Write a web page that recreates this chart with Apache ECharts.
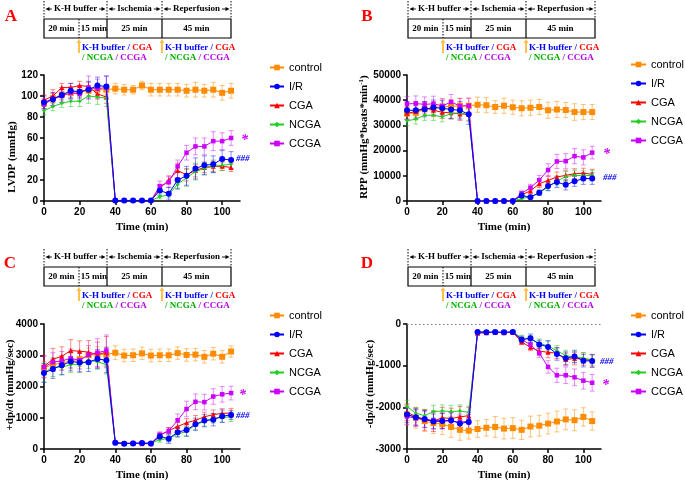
<!DOCTYPE html>
<html><head><meta charset="utf-8">
<script src="https://cdn.jsdelivr.net/npm/echarts@6/dist/echarts.min.js"></script>
<style>html,body{margin:0;padding:0;background:#fff}#c{width:685px;height:484px}</style>
</head><body><div id="c"></div>
<script>
const time = [0,5,10,15,20,25,30,35,40,45,50,55,60,65,70,75,80,85,90,95,100,105];
const groups = ['control','I/R','CGA','NCGA','CCGA'];
const xTicks = [0,20,40,60,80,100];

// Panel A: LVDP (mmHg)
const lvdp_control = [93,98,101,103,104,105,106,106,107,106,106,110,106,106,106,106,105,106,105,106,103,105];
const lvdp_control_err = [5,5,5,5,5,5,5,5,5,5,4,4,6,6,6,6,6,7,6,7,7,7];
const lvdp_ir = [94,97,101,105,104,106,110,109,0.5,0.5,0.5,0.5,0.5,10,7,20,24,31,34,35,40,39];
const lvdp_ir_err = [6,6,7,7,6,8,8,10,0,0,0,0,0,5,6,8,9,10,9,8,8,8];
const lvdp_cga = [96,100,108,108,110,109,102,99,0.5,0.5,0.5,0.5,0.5,12,20,29,25,29,32,33,33,32];
const lvdp_cga_err = [5,6,4,4,4,4,5,6,0,0,0,0,0,4,4,7,6,6,5,5,4,4];
const lvdp_ncga = [86,90,93,95,95,100,99,98,0.5,0.5,0.5,0.5,0.5,4,6,16,22,28,31,33,34,35];
const lvdp_ncga_err = [4,4,4,5,5,7,7,8,0,0,0,0,0,2,3,5,8,8,6,6,5,5];
const lvdp_ccga = [92,97,100,103,102,108,107,108,0.5,0.5,0.5,0.5,0.5,14,18,33,46,52,52,57,57,60];
const lvdp_ccga_err = [5,6,6,6,6,11,9,11,0,0,0,0,0,5,5,6,7,8,8,9,8,7];

// Panel B: RPP
const rpp_control = [34700,35000,36500,37000,37500,37500,37800,37800,38200,38000,37300,37800,37200,36800,37000,37300,36000,36300,36100,35300,35300,35300];
const rpp_control_err = [2500,2800,2500,2500,2800,2800,3000,3000,3000,3000,2500,3000,2800,3000,3000,3000,3200,3200,3000,3300,3000,3000];
const rpp_ir = [36000,36000,36400,37100,36800,36300,36000,34400,0,0,0,0,0,2200,1500,3300,6000,7500,6400,7800,8900,8900];
const rpp_ir_err = [3500,3500,3000,3000,3000,3500,3500,4000,0,0,0,0,0,600,500,1000,1800,2200,2000,2000,2300,2300];
const rpp_cga = [34800,35500,37000,36000,35200,35000,34500,34500,0,0,0,0,0,2500,4000,6800,8200,9500,10200,10800,11000,10600];
const rpp_cga_err = [2500,2500,2500,2500,2500,2500,2500,2500,0,0,0,0,0,1000,1200,1500,1800,2000,2000,2000,2000,2000];
const rpp_ncga = [31800,32500,34000,34000,33400,34700,35000,34000,0,0,0,0,0,1000,1600,3300,5500,8000,9700,10200,10000,10200];
const rpp_ncga_err = [2000,2000,2000,2000,2000,2000,2000,2500,0,0,0,0,0,500,600,1000,1500,2000,2000,2000,2000,2000];
const rpp_ccga = [38500,38700,38300,38600,37700,39300,37700,37800,0,0,0,0,0,3000,5300,8300,12300,15700,15800,17800,17300,19200];
const rpp_ccga_err = [3000,3000,3000,3000,3000,3000,3000,3000,0,0,0,0,0,1000,1300,1800,2500,2800,3000,3000,3000,2500];

// Panel C: +dp/dt
const dpdt_control = [2600,2700,2750,2820,2870,3000,3020,3020,3080,2990,3000,3060,2990,3000,3000,3070,3010,3020,2950,3050,2950,3120];
const dpdt_control_err = [200,200,220,250,230,230,250,250,220,200,200,200,200,200,200,200,200,200,200,200,200,180];
const dpdt_ir = [2430,2560,2680,2800,2770,2780,2880,2840,200,170,180,190,180,400,330,540,610,790,910,940,1050,1090];
const dpdt_ir_err = [300,300,300,300,300,300,300,400,30,30,30,30,30,100,150,150,200,200,200,200,200,150];
const dpdt_cga = [2650,2870,2970,3150,3130,3100,3020,3100,200,190,180,170,170,440,590,720,840,920,1030,1100,1140,1150];
const dpdt_cga_err = [350,350,300,350,330,370,400,500,30,30,30,30,30,80,100,130,130,150,150,150,150,150];
const dpdt_ncga = [2450,2620,2620,2700,2700,2830,2800,2700,190,180,180,180,180,300,330,480,560,780,880,980,1010,1030];
const dpdt_ncga_err = [300,300,250,250,250,250,250,300,30,30,30,30,30,80,100,100,150,150,150,150,150,150];
const dpdt_ccga = [2620,2780,2820,2900,2840,3010,3080,3150,200,170,190,190,180,450,580,920,1280,1510,1500,1680,1750,1790];
const dpdt_ccga_err = [350,300,300,300,280,300,450,500,30,30,30,30,30,100,100,200,250,250,250,250,250,220];

// Panel D: -dp/dt
const mdpdt_control = [-2170,-2250,-2330,-2380,-2400,-2470,-2540,-2560,-2520,-2490,-2470,-2510,-2500,-2540,-2460,-2440,-2390,-2340,-2290,-2310,-2230,-2330];
const mdpdt_control_err = [250,250,250,250,250,250,250,200,200,200,250,250,250,230,250,250,250,250,250,250,220,220];
const mdpdt_ir = [-2170,-2240,-2280,-2340,-2330,-2310,-2390,-2350,-190,-200,-190,-200,-190,-380,-340,-490,-550,-720,-820,-780,-880,-890];
const mdpdt_ir_err = [200,200,200,180,180,180,180,180,30,30,30,30,30,70,100,100,150,150,150,150,150,150];
const mdpdt_cga = [-2120,-2220,-2300,-2330,-2250,-2270,-2230,-2200,-220,-210,-200,-210,-200,-430,-560,-650,-680,-700,-850,-830,-840,-880];
const mdpdt_cga_err = [200,200,250,250,250,250,250,200,30,30,30,30,30,60,80,100,130,130,150,150,150,150];
const mdpdt_ncga = [-1980,-2140,-2200,-2100,-2090,-2100,-2090,-2120,-190,-190,-210,-200,-200,-330,-360,-460,-530,-640,-760,-790,-820,-860];
const mdpdt_ncga_err = [150,130,150,150,150,150,150,150,30,30,30,30,30,60,80,100,120,120,130,130,130,130];
const mdpdt_ccga = [-2220,-2260,-2290,-2310,-2320,-2330,-2360,-2330,-200,-200,-200,-200,-200,-370,-500,-700,-1030,-1230,-1230,-1280,-1360,-1410];
const mdpdt_ccga_err = [200,200,200,200,200,200,200,200,30,30,30,30,30,80,100,100,150,170,200,200,200,200];

const styles = {
  'control': {color:'#FF8C00', err:'rgba(255,140,0,0.5)', symbol:'rect', size:6},
  'I/R': {color:'#0000FF', err:'rgba(0,0,255,0.45)', symbol:'circle', size:6},
  'CGA': {color:'#FF0000', err:'rgba(255,0,0,0.45)', symbol:'triangle', size:5},
  'NCGA': {color:'#22CC22', err:'rgba(34,204,34,0.5)', symbol:'diamond', size:4},
  'CCGA': {color:'#CC00FF', err:'rgba(204,0,255,0.45)', symbol:'rect', size:4.5}
};

const panels = [
  {grid:{left:44,top:75,width:196,height:126}, y:{min:0,max:120,interval:20},
   data:{'control':[lvdp_control,lvdp_control_err],'I/R':[lvdp_ir,lvdp_ir_err],'CGA':[lvdp_cga,lvdp_cga_err],'NCGA':[lvdp_ncga,lvdp_ncga_err],'CCGA':[lvdp_ccga,lvdp_ccga_err]}},
  {grid:{left:407,top:75,width:194,height:126}, y:{min:0,max:50000,interval:10000},
   data:{'control':[rpp_control,rpp_control_err],'I/R':[rpp_ir,rpp_ir_err],'CGA':[rpp_cga,rpp_cga_err],'NCGA':[rpp_ncga,rpp_ncga_err],'CCGA':[rpp_ccga,rpp_ccga_err]}},
  {grid:{left:44,top:324,width:196,height:125}, y:{min:0,max:4000,interval:1000},
   data:{'control':[dpdt_control,dpdt_control_err],'I/R':[dpdt_ir,dpdt_ir_err],'CGA':[dpdt_cga,dpdt_cga_err],'NCGA':[dpdt_ncga,dpdt_ncga_err],'CCGA':[dpdt_ccga,dpdt_ccga_err]}},
  {grid:{left:407,top:324,width:194,height:125}, y:{min:-3000,max:0,interval:1000},
   data:{'control':[mdpdt_control,mdpdt_control_err],'I/R':[mdpdt_ir,mdpdt_ir_err],'CGA':[mdpdt_cga,mdpdt_cga_err],'NCGA':[mdpdt_ncga,mdpdt_ncga_err],'CCGA':[mdpdt_ccga,mdpdt_ccga_err]}}
];

const SANS = 'Liberation Sans, Arial, sans-serif';
const SERIF = 'Liberation Serif, Times New Roman, serif';

const grids = [], xAxes = [], yAxes = [], series = [];
const drawOrder = ['control','CGA','NCGA','CCGA','I/R'];
panels.forEach((p, pi) => {
  grids.push(p.grid);
  xAxes.push({type:'value', gridIndex:pi, min:0, max:110, interval:20,
    axisLine:{onZero:false, lineStyle:{color:'#000', width:1.5}},
    axisTick:{length:4, lineStyle:{color:'#000', width:1.5}, customValues:xTicks},
    axisLabel:{color:'#000', fontSize:10, fontWeight:'bold', fontFamily:SANS, margin:6, customValues:xTicks, formatter:v => String(v)},
    splitLine:{show:false},
    name:'Time (min)', nameLocation:'middle', nameGap:21,
    nameTextStyle:{color:'#000', fontSize:11, fontWeight:'bold', fontFamily:SERIF}});
  yAxes.push({type:'value', gridIndex:pi, min:p.y.min, max:p.y.max, interval:p.y.interval,
    axisLine:{show:true, onZero:false, lineStyle:{color:'#000', width:1.5}},
    axisTick:{show:true, length:4, lineStyle:{color:'#000', width:1.5}},
    axisLabel:{color:'#000', fontSize:10, fontWeight:'bold', fontFamily:SANS, margin:6, formatter:v => String(v)},
    splitLine:{show:false}});
  drawOrder.forEach(g => {
    const st = styles[g];
    const [m, e] = p.data[g];
    series.push({type:'custom', name:g + ' SEM', xAxisIndex:pi, yAxisIndex:pi, silent:true, z:1,
      encode:{x:0, y:1}, itemStyle:{color:st.err},
      data: time.map((t,i) => [t, m[i], e[i]]),
      renderItem: function(params, api){
        const x = api.value(0), v = api.value(1), er = api.value(2);
        if (!er) return null;
        const a = api.coord([x, v+er]), b = api.coord([x, v-er]);
        const w = 2.5, s = {stroke:st.err, lineWidth:1};
        return {type:'group', children:[
          {type:'line', shape:{x1:a[0],y1:a[1],x2:b[0],y2:b[1]}, style:s},
          {type:'line', shape:{x1:a[0]-w,y1:a[1],x2:a[0]+w,y2:a[1]}, style:s},
          {type:'line', shape:{x1:b[0]-w,y1:b[1],x2:b[0]+w,y2:b[1]}, style:s}
        ]};
      }});
  });
  drawOrder.forEach((g, gi) => {
    const st = styles[g];
    const [m] = p.data[g];
    const s = {type:'line', name:g, xAxisIndex:pi, yAxisIndex:pi, z:2 + gi*0.1,
      data: time.map((t,i) => [t, m[i]]),
      symbol:st.symbol, symbolSize:st.size, showSymbol:true,
      itemStyle:{color:st.color}, lineStyle:{color:st.color, width:1},
      animation:false, silent:true};
    if (pi === 3 && g === 'control') {
      s.markLine = {silent:true, symbol:'none', label:{show:false},
        lineStyle:{color:'#9a6b6b', type:[1.5,2.5], width:1.2}, data:[{yAxis:0}], animation:false};
    }
    series.push(s);
  });
});

const legendPos = [[264,57,14],[625,54,15],[264,305,14],[625,305,15]];
const legends = legendPos.map(p => ({data:groups, orient:'vertical', left:p[0], top:p[1],
  itemWidth:p[2], itemHeight:7, itemGap:8, selectedMode:false,
  textStyle:{color:'#000', fontSize:11, fontFamily:SANS}}));

const graphic = [];
function T(x, y, text, font, fill, align, extra){
  graphic.push(Object.assign({type:'text', x:x, y:y, silent:true,
    style:{text:text, font:font, fill:fill||'#000', textAlign:align||'center', textVerticalAlign:'middle'}}, extra||{}));
}
function L(x1,y1,x2,y2,stroke,w,dash){
  graphic.push({type:'line', silent:true, shape:{x1,y1,x2,y2}, style:{stroke:stroke||'#000', lineWidth:w||1, lineDash:dash||null}});
}
function P(points, fill){
  graphic.push({type:'polygon', silent:true, shape:{points}, style:{fill:fill||'#000'}});
}
const PF = 'bold 9px ' + SERIF;
function protocol(dx, dy){
  const X = [44,79,107,162,231].map(v => v + dx);
  const yt = 9 + dy, y1 = 19 + dy, y2 = 38 + dy;
  [X[0],X[2],X[3],X[4]].forEach(x => L(x, dy+1, x, y1, '#000', 1, [1.5,1.5]));
  graphic.push({type:'rect', silent:true, shape:{x:X[0], y:y1, width:X[4]-X[0], height:y2-y1}, style:{fill:null, stroke:'#000', lineWidth:1.2}});
  L(X[2], y1, X[2], y2, '#000', 1.2);
  L(X[3], y1, X[3], y2, '#000', 1.2);
  L(X[1], y1, X[1], y2, '#000', 1, [1.5,1.5]);
  const ym = (y1+y2)/2;
  T((X[0]+X[1])/2, ym, '20 min', PF);
  T((X[1]+X[2])/2+1, ym, '15 min', PF);
  T((X[2]+X[3])/2, ym, '25 min', PF);
  T((X[3]+X[4])/2, ym, '45 min', PF);
  [[X[0],X[2],'K-H buffer'],[X[2],X[3],'Ischemia'],[X[3],X[4],'Reperfusion']].forEach(s => {
    const a = s[0]+1.5, b = s[1]-1.5;
    L(a+3, yt, b-3, yt, '#000', 0.9);
    P([[a,yt],[a+4,yt-2],[a+4,yt+2]]);
    P([[b,yt],[b-4,yt-2],[b-4,yt+2]]);
    graphic.push({type:'text', x:(s[0]+s[1])/2, y:yt, silent:true, z:10,
      style:{text:s[2], font:PF, fill:'#000', textAlign:'center', textVerticalAlign:'middle', backgroundColor:'#fff', padding:[0,2]}});
  });
  [X[1], X[3]].forEach(x => {
    L(x, y2+15, x, y2+4, '#FFC04C', 2);
    P([[x, y2+1],[x-2.5, y2+5],[x+2.5, y2+5]], '#FFC04C');
    graphic.push({type:'text', x:x+3, y:y2+10, silent:true,
      style:{text:'{b|K-H buffer /}{r| CGA}', textAlign:'left', textVerticalAlign:'middle',
        rich:{b:{fill:'#0000FF', font:PF}, r:{fill:'#FF0000', font:PF}}}});
    graphic.push({type:'text', x:x+3, y:y2+20, silent:true,
      style:{text:'{g|/ NCGA}{p| / CCGA}', textAlign:'left', textVerticalAlign:'middle',
        rich:{g:{fill:'#00B000', font:PF}, p:{fill:'#B400E6', font:PF}}}});
  });
}
protocol(0, 0);
protocol(364, 0);
protocol(0, 248);
protocol(364, 248);

const LF = 'bold 17px ' + SERIF;
T(11, 17, 'A', LF, '#FF0000');
T(367, 17, 'B', LF, '#FF0000');
T(10, 264, 'C', LF, '#FF0000');
T(367, 264, 'D', LF, '#FF0000');

const YF = 'bold 11px ' + SERIF;
T(12, 157, 'LVDP (mmHg)', YF, '#000', 'center', {rotation:Math.PI/2});
graphic.push({type:'text', x:364, y:137, rotation:Math.PI/2, silent:true,
  style:{text:'{a|RPP (mmHg*beats*min}{s|-1}{a|)}', textAlign:'center', textVerticalAlign:'middle',
    rich:{a:{font:YF, fill:'#000'}, s:{font:'bold 7px '+SERIF, fill:'#000', verticalAlign:'top', padding:[0,0,5,0]}}}});
T(10.5, 385, '+dp/dt (mmHg/sec)', YF, '#000', 'center', {rotation:Math.PI/2});
T(370.5, 384, '-dp/dt (mmHg/sec)', YF, '#000', 'center', {rotation:Math.PI/2});

const SF = 'italic bold 14px ' + SERIF;
const HF = 'italic bold 9px ' + SERIF;
T(241, 140, '*', SF, '#CC00FF', 'left');
T(236, 159, '###', HF, '#0000FF', 'left');
T(603, 154, '*', SF, '#CC00FF', 'left');
T(603, 178, '###', HF, '#0000FF', 'left');
T(239, 395, '*', SF, '#CC00FF', 'left');
T(236, 416, '###', HF, '#0000FF', 'left');
T(600, 362, '###', HF, '#0000FF', 'left');
T(602, 385, '*', SF, '#CC00FF', 'left');

const chart = echarts.init(document.getElementById('c'), null, {renderer:'canvas'});
chart.setOption({
  animation:false,
  backgroundColor:'#fff',
  grid:grids, xAxis:xAxes, yAxis:yAxes, series:series, legend:legends, graphic:graphic
});
</script></body></html>
